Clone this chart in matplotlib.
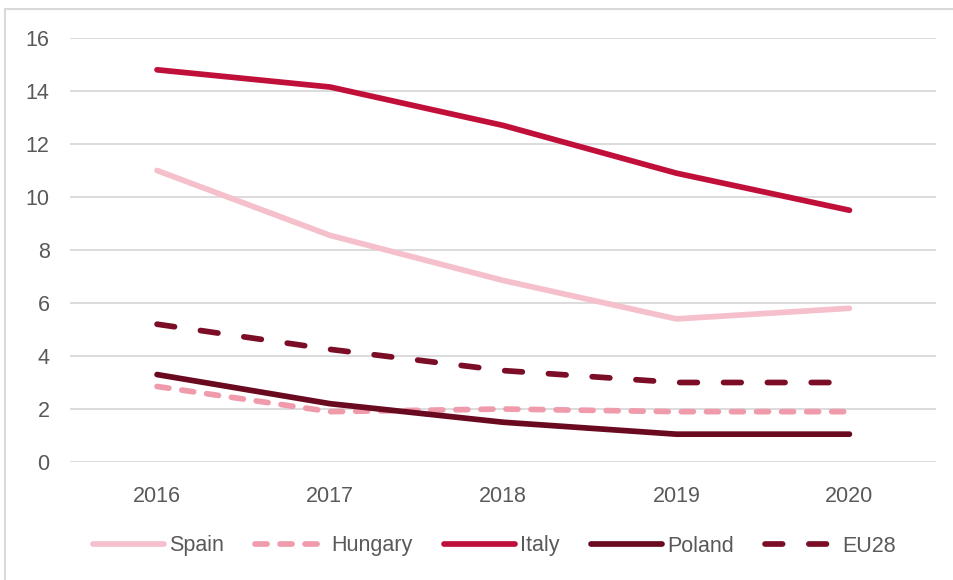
import matplotlib
matplotlib.use("Agg")
import matplotlib.pyplot as plt
from matplotlib.patches import Rectangle

years = ["2016", "2017", "2018", "2019", "2020"]
spain = [11.0, 8.55, 6.85, 5.4, 5.8]
hungary = [2.85, 1.9, 2.0, 1.9, 1.9]
italy = [14.8, 14.15, 12.7, 10.9, 9.5]
poland = [3.3, 2.2, 1.5, 1.05, 1.05]
eu28 = [5.2, 4.25, 3.45, 3.0, 3.0]

plt.rcParams["font.family"] = ["Liberation Sans", "DejaVu Sans"]
text_color = "#595959"
W, H = 954, 580

fig = plt.figure(figsize=(W / 100, H / 100), dpi=100)
ax = fig.add_axes([70.5 / W, 1 - 462 / H, (936 - 70.5) / W, (462 - 38) / H])

x = list(range(len(years)))
lw = 4.1
series = [
    ("Spain", spain, "#F5C0CC", None),
    ("Hungary", hungary, "#F09BAC", (2.1, 2.3)),
    ("Italy", italy, "#C0103A", None),
    ("Poland", poland, "#6A0A20", None),
    ("EU28", eu28, "#7B0D27", (3.1, 4.6)),
]
for name, vals, color, dashes in series:
    line, = ax.plot(x, vals, color=color, lw=lw, label=name,
                    solid_capstyle="round", dash_capstyle="round",
                    solid_joinstyle="round")
    if dashes:
        line.set_dashes(dashes)

ax.set_xlim(-0.5, 4.5)
ax.set_ylim(0, 16)
ax.set_yticks(range(0, 17, 2))
ax.set_xticks(x)
ax.set_xticklabels(years)
ax.grid(axis="y", color="#D9D9D9", lw=1.3)
ax.set_axisbelow(True)
for s in ax.spines.values():
    s.set_visible(False)
ax.tick_params(length=0, labelsize=15.5, colors=text_color)
ax.tick_params(axis="y", pad=15)
ax.tick_params(axis="x", pad=17)

leg = fig.legend(loc="center", bbox_to_anchor=(494 / W, 1 - 546 / H), ncol=5,
                 frameon=False, handlelength=3.3, handletextpad=0.25,
                 columnspacing=1.45, fontsize=15.5)
for t in leg.get_texts():
    t.set_color(text_color)

# outer frame: only its top and left edges fall inside the canvas
fig.patches.append(Rectangle((5 / W, -0.1), 1.2, 1.1 - 9 / H,
                             transform=fig.transFigure, fill=False,
                             edgecolor="#D9D9D9", lw=1.5))

fig.savefig("out.png", dpi=100)
